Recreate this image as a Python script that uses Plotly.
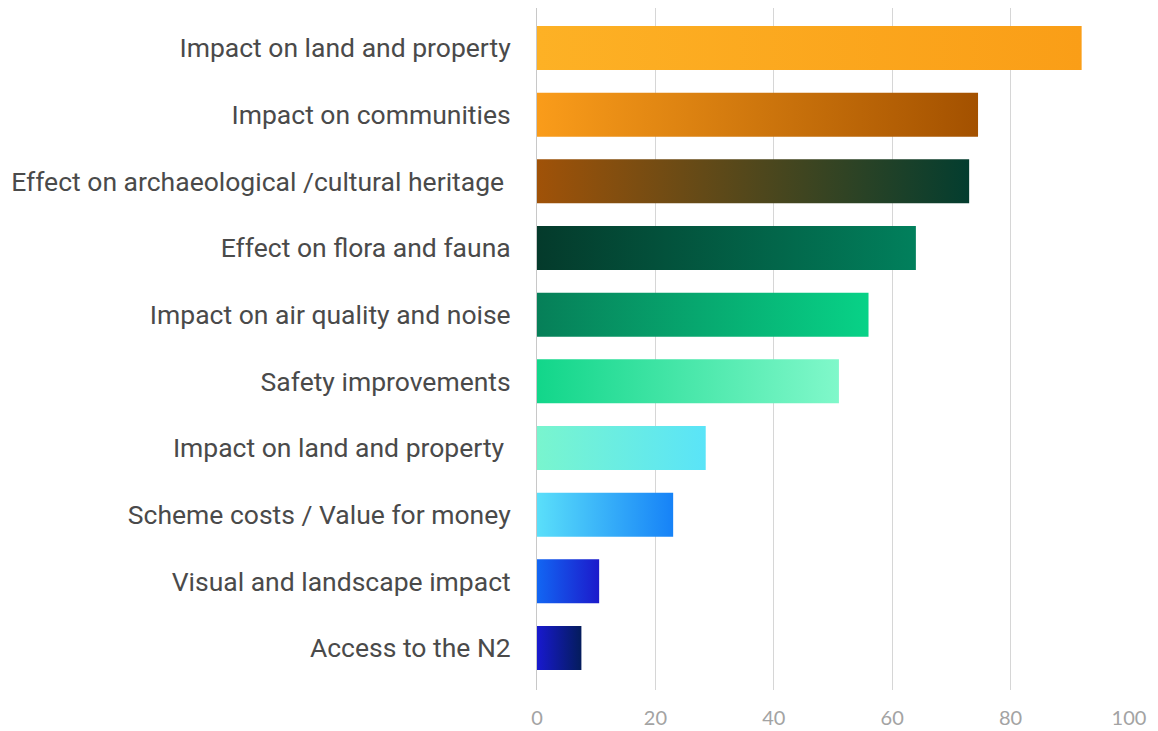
import plotly.graph_objects as go

categories = [
    "Impact on land and property",
    "Impact on communities",
    "Effect on archaeological /cultural heritage\u00a0",
    "Effect on flora and fauna",
    "Impact on air quality and noise",
    "Safety improvements",
    "Impact on land and property\u00a0",
    "Scheme costs / Value for money",
    "Visual and landscape impact",
    "Access to the N2",
]
values = [92, 74.5, 73, 64, 56, 51, 28.5, 23, 10.5, 7.5]
start_colors = ["#FDB125", "#FA9C1A", "#A05208", "#043A2B", "#067F58",
                "#12D68A", "#79F5CE", "#5ADFFA", "#1266F3", "#1819CF"]
end_colors = ["#FA9E17", "#A35100", "#033D2F", "#01805C", "#08D287",
              "#80F8CA", "#5AE4F8", "#1682F7", "#1C1ACB", "#041C5C"]
x_ticks = [0, 20, 40, 60, 80, 100]

BAR_W = 0.66

fig = go.Figure()
for i, (cat, v, c0, c1) in enumerate(zip(categories, values, start_colors, end_colors)):
    y0, y1 = i - BAR_W / 2, i + BAR_W / 2
    fig.add_trace(go.Scatter(
        x=[0, v, v, 0, 0],
        y=[y0, y0, y1, y1, y0],
        mode="lines",
        line=dict(width=0),
        fill="toself",
        fillgradient=dict(type="horizontal", colorscale=[[0, c0], [1, c1]]),
        name=cat.strip(),
        hoverinfo="text",
        text=f"{cat.strip()}: {v}",
        showlegend=False,
    ))

# the page body adds an 8px offset, so the figure is 8px smaller on each side
fig.update_layout(
    width=1150, height=723,
    margin=dict(l=529, r=29, t=0, b=41),
    paper_bgcolor="white",
    plot_bgcolor="white",
    showlegend=False,
)
fig.update_xaxes(
    range=[0, 100],
    tickvals=x_ticks,
    ticktext=[str(t) for t in x_ticks],
    showgrid=True, gridcolor="#d6d6d6", gridwidth=1,
    zeroline=False,
    showline=False,
    automargin=False,
    tickfont=dict(family="Lato", size=20, color="#a3a3a3"),
    ticklabelstandoff=14,
)
fig.update_yaxes(
    range=[len(categories) - 1 + 0.63, -0.6],
    tickvals=list(range(len(categories))),
    ticktext=categories,
    showgrid=False,
    zeroline=False,
    showline=True, linecolor="#c8c8c8", linewidth=1,
    automargin=False,
    tickfont=dict(family="Roboto", size=26.5, color="#4a4a4a"),
    ticklabelstandoff=20,
)

fig.write_html("out.html")
